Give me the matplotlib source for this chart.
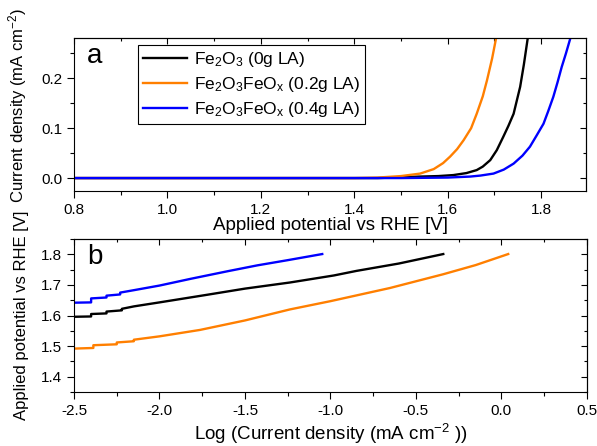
import matplotlib.pyplot as plt
from matplotlib.ticker import MultipleLocator

plt.rcParams['font.family'] = ['Liberation Sans', 'DejaVu Sans']
plt.rcParams['mathtext.fontset'] = 'custom'
plt.rcParams['mathtext.rm'] = 'Liberation Sans'
plt.rcParams['mathtext.it'] = 'Liberation Sans'
plt.rcParams['axes.unicode_minus'] = False

# (a) current density vs applied potential
v_black = [0.8, 1.2, 1.45, 1.541, 1.58, 1.612, 1.64, 1.662, 1.675, 1.691, 1.705,
           1.719, 1.73, 1.741, 1.755, 1.763, 1.771]
j_black = [0.0, 0.0, 0.0, 0.003, 0.004, 0.006, 0.010, 0.016, 0.023, 0.036, 0.056,
           0.083, 0.105, 0.129, 0.183, 0.228, 0.279]
v_orange = [0.8, 1.2, 1.4, 1.45, 1.5, 1.541, 1.57, 1.59, 1.605, 1.62, 1.634, 1.65,
            1.662, 1.675, 1.684, 1.695, 1.704]
j_orange = [0.0, 0.0, 0.0, 0.001, 0.004, 0.009, 0.018, 0.030, 0.043, 0.058, 0.076, 0.100,
            0.129, 0.164, 0.196, 0.240, 0.283]
v_blue = [0.8, 1.2, 1.5, 1.6, 1.648, 1.67, 1.698, 1.72, 1.741, 1.76, 1.776, 1.79,
          1.805, 1.815, 1.826, 1.835, 1.844, 1.853, 1.862]
j_blue = [0.0, 0.0, 0.0, 0.001, 0.003, 0.005, 0.009, 0.017, 0.029, 0.045, 0.063, 0.085,
          0.109, 0.134, 0.163, 0.192, 0.223, 0.250, 0.279]

# (b) Tafel plots
logj_black = [-2.5, -2.40, -2.40, -2.31, -2.31, -2.22, -2.22, -2.149, -2.0, -1.72,
              -1.5, -1.237, -0.98, -0.847, -0.6, -0.34]
e_black = [1.596, 1.597, 1.605, 1.607, 1.613, 1.617, 1.622, 1.630, 1.643, 1.668,
           1.688, 1.708, 1.731, 1.746, 1.770, 1.801]
logj_orange = [-2.5, -2.387, -2.387, -2.25, -2.25, -2.15, -2.15, -2.0, -1.763, -1.5,
               -1.237, -1.0, -0.652, -0.34, -0.15, 0.04]
e_orange = [1.492, 1.494, 1.503, 1.506, 1.512, 1.516, 1.521, 1.532, 1.553, 1.584,
            1.620, 1.647, 1.690, 1.735, 1.765, 1.801]
logj_blue = [-2.5, -2.40, -2.40, -2.31, -2.31, -2.23, -2.23, -2.149, -2.0, -1.818,
             -1.6, -1.428, -1.25, -1.048]
e_blue = [1.642, 1.643, 1.656, 1.659, 1.665, 1.669, 1.675, 1.683, 1.698, 1.720,
          1.745, 1.764, 1.781, 1.801]

labels = ['Fe$_2$O$_3$ (0g LA)', 'Fe$_2$O$_3$FeO$_x$ (0.2g LA)', 'Fe$_2$O$_3$FeO$_x$ (0.4g LA)']
colors = ['black', '#ff7f00', '#0000ff']

fig = plt.figure(figsize=(5.97, 4.46), dpi=100)
ax1 = fig.add_axes([0.124, 0.5717, 0.8576, 0.3431])
ax2 = fig.add_axes([0.124, 0.121, 0.8590, 0.343])

ax1.plot(v_black, j_black, color=colors[0], lw=1.7, label=labels[0])
ax1.plot(v_orange, j_orange, color=colors[1], lw=1.7, label=labels[1])
ax1.plot(v_blue, j_blue, color=colors[2], lw=1.7, label=labels[2])
ax1.set_xlim(0.8, 1.896)
ax1.set_ylim(-0.026, 0.281)
ax1.xaxis.set_major_locator(MultipleLocator(0.2))
ax1.xaxis.set_minor_locator(MultipleLocator(0.1))
ax1.yaxis.set_major_locator(MultipleLocator(0.1))
ax1.yaxis.set_minor_locator(MultipleLocator(0.05))
ax1.set_xlabel('Applied potential vs RHE [V]', fontsize=13.5, labelpad=0)
ax1.set_ylabel('Current density (mA cm$^{-2}$)', fontsize=12, labelpad=5)
ax1.yaxis.set_label_coords(-0.088, 0.56)
ax1.text(0.025, 0.97, 'a', transform=ax1.transAxes, fontsize=20, va='top')
leg = ax1.legend(loc='upper left', bbox_to_anchor=(0.125, 0.955), fontsize=12.5,
                 frameon=True, fancybox=False, edgecolor='black', framealpha=1,
                 handlelength=2.5, handletextpad=0.4, borderpad=0.3, labelspacing=0.35,
                 borderaxespad=0)
leg.get_frame().set_linewidth(0.8)

ax2.plot(logj_black, e_black, color=colors[0], lw=1.7)
ax2.plot(logj_orange, e_orange, color=colors[1], lw=1.7)
ax2.plot(logj_blue, e_blue, color=colors[2], lw=1.7)
ax2.set_xlim(-2.5, 0.5)
ax2.set_ylim(1.35, 1.85)
ax2.xaxis.set_major_locator(MultipleLocator(0.5))
ax2.xaxis.set_minor_locator(MultipleLocator(0.25))
ax2.yaxis.set_major_locator(MultipleLocator(0.1))
ax2.yaxis.set_minor_locator(MultipleLocator(0.05))
ax2.set_xlabel('Log (Current density (mA cm$^{-2}$ ))', fontsize=13.5, labelpad=3)
ax2.set_ylabel('Applied potential vs RHE [V]', fontsize=12, labelpad=6)
ax2.yaxis.set_label_coords(-0.088, 0.5)
ax2.text(0.025, 0.97, 'b', transform=ax2.transAxes, fontsize=20, va='top')

for ax in (ax1, ax2):
    ax.tick_params(which='both', direction='out', labelsize=11, width=0.8,
                   top=False, right=False)
    ax.tick_params(which='major', length=5)
    ax.tick_params(which='minor', length=3)
    for sp in ax.spines.values():
        sp.set_linewidth(0.8)

    # inward ticks on the top and right edges
    sec_x = ax.secondary_xaxis('top')
    sec_x.xaxis.set_major_locator(ax.xaxis.get_major_locator())
    sec_x.xaxis.set_minor_locator(ax.xaxis.get_minor_locator())
    sec_x.tick_params(which='both', direction='in', labeltop=False, width=0.8)
    sec_x.tick_params(which='major', length=4)
    sec_x.tick_params(which='minor', length=2.5)
    sec_y = ax.secondary_yaxis('right')
    sec_y.yaxis.set_major_locator(ax.yaxis.get_major_locator())
    sec_y.yaxis.set_minor_locator(ax.yaxis.get_minor_locator())
    sec_y.tick_params(which='both', direction='in', labelright=False, width=0.8)
    sec_y.tick_params(which='major', length=4)
    sec_y.tick_params(which='minor', length=2.5)

fig.savefig('out.png', dpi=100)
